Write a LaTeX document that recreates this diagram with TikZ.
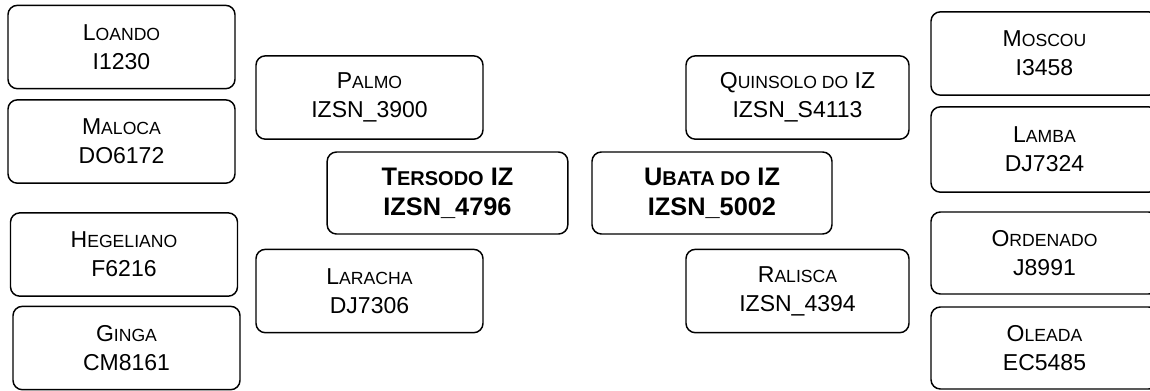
\documentclass[tikz,border=0pt]{standalone}
\usepackage{fontspec}
\setmainfont{Liberation Sans}
\newcommand\sm[1]{{\fontsize{13.2pt}{21.75pt}\selectfont #1}}
\newcommand\bsm[1]{{\fontsize{15pt}{22.5pt}\selectfont #1}}
\tikzset{
  box/.style={draw, line width=1.1pt, rounded corners=7pt, inner sep=0pt, align=center,
    font=\fontsize{17.25pt}{21.75pt}\selectfont, minimum width=170.25pt, minimum height=62.5pt},
  bbox/.style={box, font=\fontsize{19pt}{22.5pt}\selectfont\bfseries, minimum width=180.5pt, minimum height=61.5pt}
}
\begin{document}
\begin{tikzpicture}[x=0.75pt,y=-0.75pt]
\useasboundingbox (0,0) rectangle (1150,390);
\node[box] (loando) at (121.5,47) {L\sm{OANDO}\\I1230};
\node[box] (maloca) at (121.5,141.5) {M\sm{ALOCA}\\DO6172};
\node[box] (hegeliano) at (124,254.5) {H\sm{EGELIANO}\\F6216};
\node[box] (ginga) at (126.5,348) {G\sm{INGA}\\CM8161};
\node[box] (palmo) at (369.5,97.5) {P\sm{ALMO}\\IZSN\_3900};
\node[bbox] (tersodo) at (447.5,193) {T\bsm{ERSODO} IZ\\IZSN\_4796};
\node[box] (laracha) at (369.5,291) {L\sm{ARACHA}\\DJ7306};
\node[box, minimum width=167.25pt] (quinsolo) at (797.5,97.5) {Q\sm{UINSOLO DO} IZ\\IZSN\_S4113};
\node[bbox, minimum width=180pt] (ubata) at (712,193) {U\bsm{BATA DO} IZ\\IZSN\_5002};
\node[box, minimum width=167.25pt] (ralisca) at (797.5,291) {R\sm{ALISCA}\\IZSN\_4394};
\node[box] (moscou) at (1044.5,53.5) {M\sm{OSCOU}\\I3458};
\node[box, minimum height=64pt] (lamba) at (1044.5,149.5) {L\sm{AMBA}\\DJ7324};
\node[box, minimum height=61.5pt] (ordenado) at (1044.5,253) {O\sm{RDENADO}\\J8991};
\node[box, minimum height=61.5pt] (oleada) at (1044.5,348) {O\sm{LEADA}\\EC5485};
\end{tikzpicture}
\end{document}
